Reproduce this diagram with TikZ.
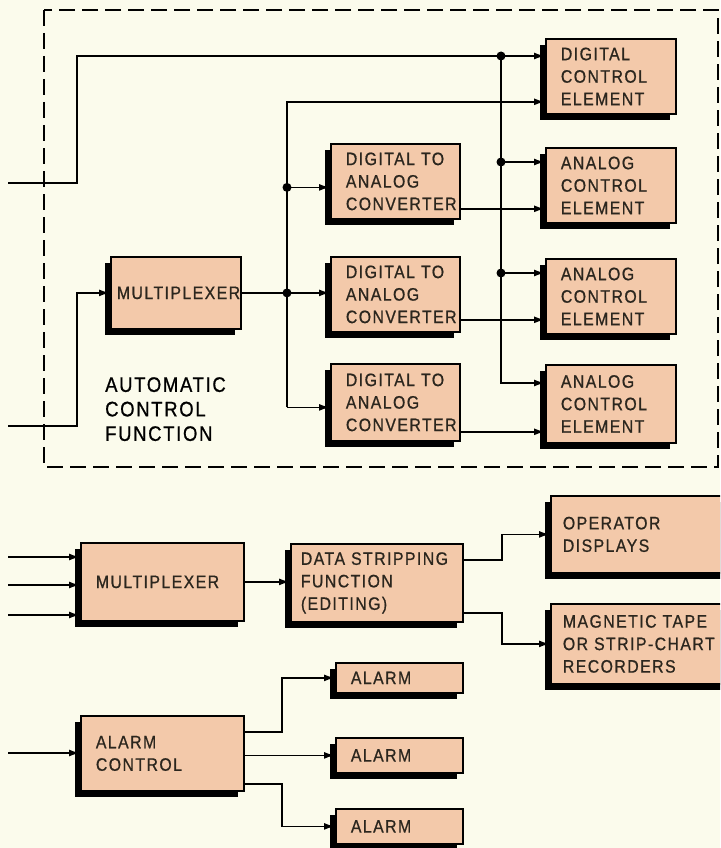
\documentclass[tikz,border=0pt]{standalone}
\usepackage{fontspec}
\setmainfont{Liberation Sans}[FakeStretch=0.88,LetterSpace=8,FakeBold=0.8]
\usetikzlibrary{arrows.meta,shadows}
\definecolor{paper}{HTML}{FBFBEC}
\definecolor{peach}{HTML}{F3C9AA}
\definecolor{ink}{HTML}{2B261E}

\begin{document}
\begin{tikzpicture}[
  x=1pt, y=-1pt,
  stage/.style 2 args={
    draw=black,
    line width=1.8pt,
    fill=peach,
    text=ink,
    anchor=north west,
    inner xsep=15pt,
    text width=#1,
    minimum height=#2,
    align=left,
    font=\fontsize{18}{22.5}\selectfont,
    drop shadow={shadow xshift=-6pt, shadow yshift=-6pt, fill=black, opacity=1}
  },
  link/.style={line width=1.8pt},
  feed/.style={link, -{Latex[length=11pt,width=7pt]}},
  dot/.style={circle, fill=black, inner sep=0pt, minimum size=9pt}
]
\useasboundingbox (0,0) rectangle (720,848);
\fill[paper] (0,0) rectangle (720,848);
\clip (0,0) rectangle (720,848);

% automatic control function
\draw[line width=1.6pt, dash pattern=on 16pt off 7pt] (44,10) rectangle (718,467);
\node[anchor=north west, inner sep=0pt, align=left, font=\fontsize{21}{24.5}\selectfont] (acf) at (105,377) {AUTOMATIC\\CONTROL\\FUNCTION};

\node[stage={100pt}{75pt}] (dce) at (545,38) {DIGITAL\\CONTROL\\ELEMENT};
\node[stage={100pt}{75pt}] (ace1) at (545,147) {ANALOG\\CONTROL\\ELEMENT};
\node[stage={100pt}{75pt}] (ace2) at (545,258) {ANALOG\\CONTROL\\ELEMENT};
\node[stage={100pt}{78pt}] (ace3) at (545,364) {ANALOG\\CONTROL\\ELEMENT};
\node[stage={99pt}{75pt}] (dac1) at (330,143) {DIGITAL~TO\\ANALOG\\CONVERTER};
\node[stage={99pt}{75pt}] (dac2) at (330,256) {DIGITAL~TO\\ANALOG\\CONVERTER};
\node[stage={99pt}{77pt}] (dac3) at (330,363) {DIGITAL~TO\\ANALOG\\CONVERTER};
\node[stage={118pt}{72pt}, inner xsep=6pt] (mux1) at (110,256) {MULTIPLEXER};

\coordinate (inTop) at (8,183);
\coordinate (inMux) at (8,426);
\coordinate (jog) at (77,0);
\coordinate (busL) at (287,0);
\coordinate (busR) at (501,0);
\coordinate (dceHi) at ([yshift=-18pt]dce.north west);
\coordinate (dceLo) at ([yshift=13pt]dce.south west);
\coordinate (ace1hi) at ([yshift=-15pt]ace1.north west);
\coordinate (ace1lo) at ([yshift=15pt]ace1.south west);
\coordinate (ace2hi) at ([yshift=-15pt]ace2.north west);
\coordinate (ace2lo) at ([yshift=15pt]ace2.south west);
\coordinate (ace3hi) at ([yshift=-19pt]ace3.north west);
\coordinate (ace3lo) at ([yshift=12pt]ace3.south west);
\coordinate (dac1in) at ([yshift=-6pt]dac1.west);
\coordinate (dac3in) at ([yshift=-5pt]dac3.west);

\draw[feed] (inTop) -| (jog |- dceHi) -- (dceHi);
\draw[feed] (inMux) -| (jog |- mux1.west) -- (mux1.west);

\draw[feed] (busR |- dceHi) |- (ace3hi);
\draw[feed] (busR |- ace1hi) -- (ace1hi);
\draw[feed] (busR |- ace2hi) -- (ace2hi);
\node[dot] (jR0) at (busR |- dceHi) {};
\node[dot] (jR1) at (busR |- ace1hi) {};
\node[dot] (jR2) at (busR |- ace2hi) {};

\draw[feed] (busL |- dac3in) |- (dceLo);
\draw[feed] (busL |- dac3in) -- (dac3in);
\draw[feed] (busL |- dac1in) -- (dac1in);
\draw[feed] (mux1.east) -- (mux1.east -| dac2.west);
\node[dot] (jL1) at (busL |- dac1in) {};
\node[dot] (jL2) at (busL |- mux1.east) {};

\draw[feed] (dac1.east |- ace1lo) -- (ace1lo);
\draw[feed] (dac2.east |- ace2lo) -- (ace2lo);
\draw[feed] (dac3.east |- ace3lo) -- (ace3lo);

% data logging
\node[stage={133pt}{78pt}] (mux2) at (80,542) {MULTIPLEXER};
\node[stage={152pt}{78pt}, inner xsep=10pt] (dsf) at (290,543) {DATA~STRIPPING\\FUNCTION\\(EDITING)};
\node[stage={160pt}{77pt}, inner xsep=12pt] (od) at (550,495) {OPERATOR\\DISPLAYS};
\node[stage={160pt}{80pt}, inner xsep=12pt] (mt) at (550,603) {MAGNETIC~TAPE\\OR~STRIP-CHART\\RECORDERS};

\coordinate (in1) at (8,557);
\coordinate (in2) at (8,585);
\coordinate (in3) at (8,615);
\coordinate (jogD) at (502,0);
\draw[feed] (in1) -- (in1 -| mux2.west);
\draw[feed] (in2) -- (in2 -| mux2.west);
\draw[feed] (in3) -- (in3 -| mux2.west);
\draw[feed] (mux2.east) -- (mux2.east -| dsf.west);
\draw[feed] ([yshift=-17pt]dsf.north east) -| (jogD |- od.west) -- (od.west);
\draw[feed] ([yshift=10pt]dsf.south east) -| (jogD |- mt.west) -- (mt.west);

% alarms
\node[stage={133pt}{75pt}] (alc) at (80,715) {ALARM\\CONTROL};
\node[stage={97pt}{30pt}] (al1) at (335,662) {ALARM};
\node[stage={97pt}{35pt}] (al2) at (335,737) {ALARM};
\node[stage={97pt}{35pt}] (al3) at (335,808) {ALARM};

\coordinate (inAl) at (8,753);
\coordinate (jogE) at (282,0);
\draw[feed] (inAl) -- (inAl -| alc.west);
\draw[feed] ([yshift=-17pt]alc.north east) -| (jogE |- al1.west) -- (al1.west);
\draw[feed] (alc.east |- al2.west) -- (al2.west);
\draw[feed] ([yshift=8pt]alc.south east) -| (jogE |- al3.west) -- (al3.west);

\end{tikzpicture}
\end{document}
